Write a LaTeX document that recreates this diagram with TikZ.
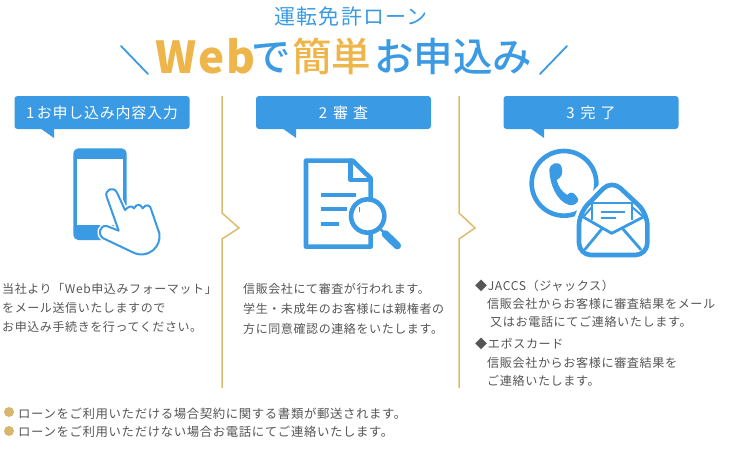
\documentclass[tikz,border=0pt]{standalone}
\usepackage{fontspec}
\setmainfont[LetterSpace=5]{Noto Sans CJK JP}
\newfontfamily\headfont{Noto Sans CJK JP Medium}
\usepackage{xcolor}
\usepackage{tikz}
\definecolor{blue}{HTML}{3A9AE3}
\definecolor{gold}{HTML}{EDB54A}
\definecolor{rule}{HTML}{DDBB6E}
\definecolor{dot}{HTML}{D6B76C}
\definecolor{body}{HTML}{555555}
\tikzset{
  stepbox/.style={fill=blue, rounded corners=3pt, text=white, minimum width=175pt, minimum height=33pt, inner sep=0pt, font=\fontsize{15}{15}\selectfont},
  tail/.style={fill=blue},
  divider/.style={draw=rule, line width=1.5pt, line join=miter},
  lab/.style={text=body, anchor=north west, inner sep=0pt, align=left},
  big/.style={inner sep=0pt, anchor=base west, font=\fontsize{39.5}{40}\headfont},
  ico/.style={draw=blue, line width=4.6pt, line join=round, line cap=round},
  icothin/.style={draw=blue, line width=2pt, line join=round, line cap=round},
}

\begin{document}
\begin{tikzpicture}[x=1pt, y=-1pt]
  \useasboundingbox (0,0) rectangle (730,471);

  % title
  \node[inner sep=0pt, text=blue, font=\fontsize{21}{21}\selectfont] (sub) at (351,16) {運転免許ローン};
  \draw[blue, line width=1.8pt, line cap=round] (121,46)--(148,74);
  \draw[blue, line width=1.8pt, line cap=round] (567,46)--(540,74);
  \node[big, text=gold, font=\fontsize{44}{44}\bfseries] (web) at (155,73) {Web};
  \node[big, text=blue] (de) at (251,71) {で};
  \node[big, text=gold] (kan) at (292,71) {簡単};
  \node[big, text=blue] (oko) at (374,71) {お申込み};

  % step boxes
  \node[stepbox] (box1) at (102,112.5) {1\,お申し込み内容入力};
  \node[stepbox] (box2) at (343.5,112.5) {2\hspace{6pt}審\hspace{5pt}査};
  \node[stepbox] (box3) at (591,112.5) {3\hspace{6pt}完\hspace{5pt}了};
  \fill[tail] (40,128)--(54,138)--(54,128)--cycle;
  \fill[tail] (282,128)--(296,138)--(296,128)--cycle;
  \fill[tail] (530,128)--(544,138)--(544,128)--cycle;

  % dividers
  \draw[divider] (222,96)--(222,213)--(239,228)--(222,239)--(222,388);
  \draw[divider] (459,96)--(459,213)--(475,228)--(459,239)--(459,388);

  % phone and hand
  \begin{scope}[shift={(60,140)}, scale=1/3]
    \fill[blue] (40,40) arc (180:270:15) -- (185,25) arc (270:360:15) -- (200,285) arc (0:90:15) -- (55,300) arc (90:180:15) -- cycle;
    \fill[white] (52,58) rectangle (188,255);
    \path[draw=white, line width=5pt, line join=round, fill=white] (140,170) .. controls (132,150) and (162,135) .. (172,160) -- (195,210) .. controls (205,200) and (215,195) .. (222,205) .. controls (230,190) and (242,192) .. (248,205) .. controls (258,190) and (272,195) .. (274,210) -- (298,280) .. controls (305,320) and (265,355) .. (225,340) -- (130,295) .. controls (112,285) and (118,255) .. (140,258) -- (176,272) -- cycle;
    \draw[icothin] (140,170) .. controls (132,150) and (162,135) .. (172,160) -- (195,210) .. controls (205,200) and (215,195) .. (222,205) .. controls (230,190) and (242,192) .. (248,205) .. controls (258,190) and (272,195) .. (274,210) -- (298,280) .. controls (305,320) and (265,355) .. (225,340) -- (130,295) .. controls (112,285) and (118,255) .. (140,258) -- (176,272) -- cycle;
  \end{scope}

  % document and lens
  \begin{scope}[shift={(290,140)}, scale=1/3]
    \draw[ico] (242,285)--(242,320)--(48,320)--(48,62)--(188,62)--(242,115)--(242,175);
    \draw[ico] (182,62)--(182,120)--(242,120);
    \draw[blue, line width=4pt] (92,165)--(198,165);
    \draw[blue, line width=4pt] (92,208)--(172,208);
    \draw[blue, line width=4pt] (92,252)--(148,252);
    \draw[draw=blue, fill=white, line width=4.6pt] (233,228) circle (50);
    \draw[blue, line width=1pt] (208,215) arc (170:190:40);
    \draw[blue, line width=7.5pt, line cap=round] (286,282)--(322,317);
    \draw[blue, line width=2.5pt] (272,268)--(290,286);
  \end{scope}

  % telephone and envelope
  \begin{scope}[shift={(510,140)}, scale=1/3]
    \draw[ico] (162,130) circle (97);
    \fill[blue] (118,88) .. controls (118,72) and (148,58) .. (155,82) .. controls (160,100) and (155,112) .. (140,120) .. controls (145,140) and (155,155) .. (172,165) .. controls (185,150) and (195,160) .. (205,178) .. controls (205,190) and (190,198) .. (178,195) .. controls (140,185) and (118,130) .. (118,88) -- cycle;
    \draw[draw=white, fill=white, line width=11pt, rounded corners=12pt] (207,345)--(207,220)--(305,120)--(412,220)--(412,345)--cycle;
    \draw[ico, rounded corners=12pt] (207,345)--(207,220)--(305,120)--(412,220)--(412,345)--cycle;
    \draw[blue, line width=2pt] (222,228)--(247,200);
    \draw[blue, line width=2pt] (397,228)--(365,200);
    \draw[blue, line width=2.2pt, fill=white] (247,240)--(247,190)--(367,190)--(367,240);
    \draw[ico, line width=2.8pt] (218,230)--(305,280)--(402,230);
    \draw[ico, line width=2.8pt] (225,328)--(276,266);
    \draw[ico, line width=2.8pt] (392,328)--(338,266);
    \draw[blue, line width=2pt] (272,215)--(345,215);
    \draw[blue, line width=2pt] (272,233)--(318,233);
  \end{scope}

  % body text
  \node[lab, font=\fontsize{12}{19}\selectfont] (txt1) at (2,283) {当社より「Web申込みフォーマット」\\をメール送信いたしますので\\お申込み手続きを行ってください。};
  \node[lab, font=\fontsize{12}{20}\selectfont] (txt2) at (243,283) {信販会社にて審査が行われます。\\学生・未成年のお客様には親権者の\\方に同意確認の連絡をいたします。};
  \node[lab, font=\fontsize{12.1}{18}\selectfont] (txt3) at (475,280) {◆JACCS（ジャックス）\\\hspace{12pt}信販会社からお客様に審査結果をメール\\\hspace{15pt}又はお電話にてご連絡いたします。};
  \node[lab, font=\fontsize{12.1}{18.5}\selectfont] (txt4) at (475,338) {◆エポスカード\\\hspace{12pt}信販会社からお客様に審査結果を\\\hspace{12pt}ご連絡いたします。};

  % notes
  \fill[dot] (9,412) circle (5);
  \fill[dot] (9,431) circle (5);
  \node[lab, font=\fontsize{12.4}{18}\selectfont] (note1) at (18,408) {ローンをご利用いただける場合契約に関する書類が郵送されます。};
  \node[lab, font=\fontsize{12.4}{18}\selectfont] (note2) at (18,426) {ローンをご利用いただけない場合お電話にてご連絡いたします。};
\end{tikzpicture}
\end{document}
